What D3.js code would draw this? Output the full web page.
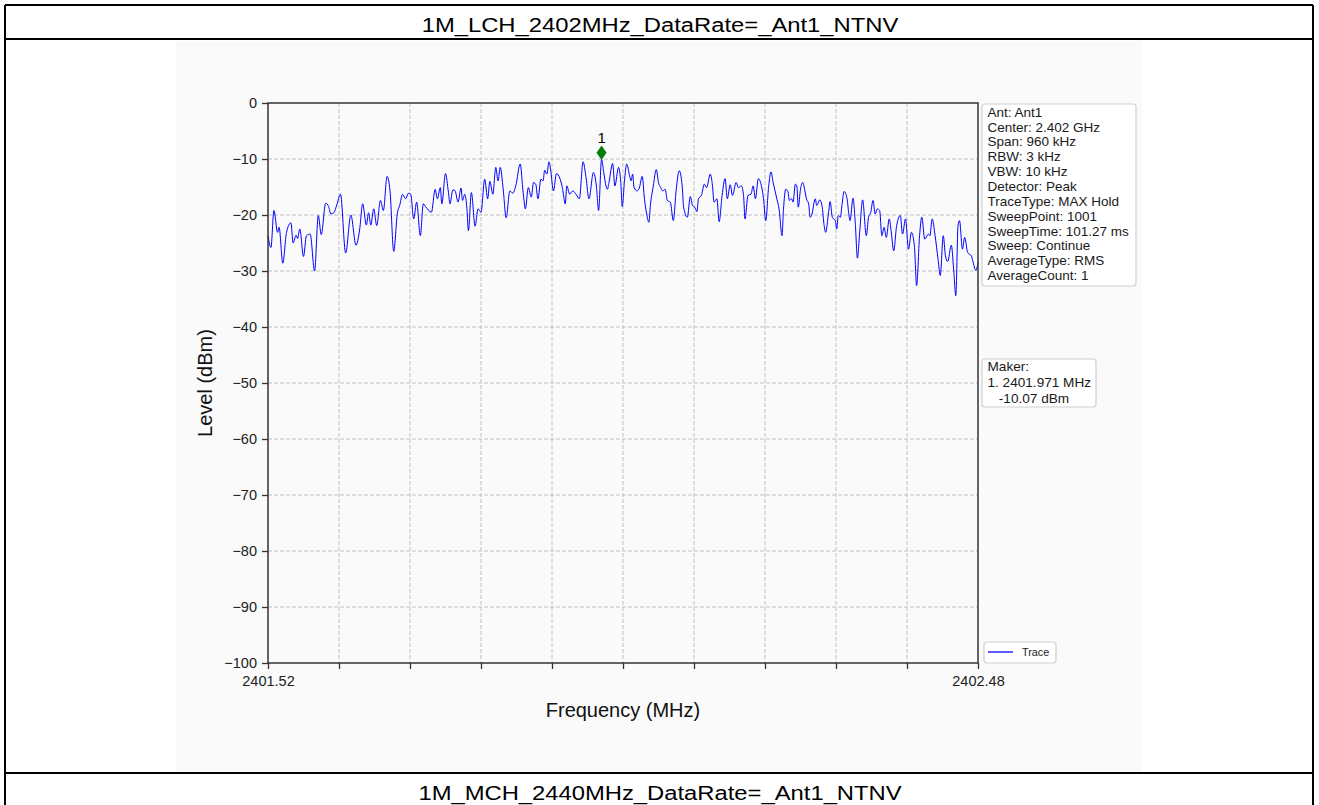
<!DOCTYPE html>
<html>
<head>
<meta charset="utf-8">
<script src="https://cdn.jsdelivr.net/npm/d3@7"></script>
<style>
  body { margin: 0; background: #fff; }
  svg { display: block; }
  text { font-family: "Liberation Sans", Arial, sans-serif; fill: #111; }
</style>
</head>
<body>
<svg id="chart" width="1319" height="805"></svg>
<script>
// ---- data ----
const titleTop = "1M_LCH_2402MHz_DataRate=_Ant1_NTNV";
const titleNext = "1M_MCH_2440MHz_DataRate=_Ant1_NTNV";

const freqMHz = [
  2401.520, 2401.524, 2401.528, 2401.533, 2401.535, 2401.540, 2401.545, 2401.551, 2401.554, 2401.558,
  2401.560, 2401.563, 2401.568, 2401.572, 2401.577, 2401.583, 2401.588, 2401.592, 2401.598, 2401.602,
  2401.605, 2401.609, 2401.613, 2401.618, 2401.625, 2401.632, 2401.639, 2401.644, 2401.648, 2401.653,
  2401.656, 2401.659, 2401.663, 2401.667, 2401.672, 2401.676, 2401.681, 2401.685, 2401.690, 2401.695,
  2401.698, 2401.702, 2401.706, 2401.710, 2401.713, 2401.717, 2401.721, 2401.726, 2401.730, 2401.733,
  2401.741, 2401.746, 2401.749, 2401.753, 2401.755, 2401.760, 2401.764, 2401.766, 2401.770, 2401.773,
  2401.777, 2401.781, 2401.783, 2401.786, 2401.789, 2401.791, 2401.795, 2401.800, 2401.804, 2401.808,
  2401.813, 2401.817, 2401.820, 2401.824, 2401.828, 2401.831, 2401.834, 2401.838, 2401.842, 2401.847,
  2401.851, 2401.855, 2401.861, 2401.865, 2401.868, 2401.872, 2401.876, 2401.879, 2401.882, 2401.885,
  2401.889, 2401.892, 2401.894, 2401.897, 2401.900, 2401.902, 2401.906, 2401.910, 2401.915, 2401.918,
  2401.922, 2401.924, 2401.928, 2401.932, 2401.937, 2401.941, 2401.946, 2401.950, 2401.954, 2401.960,
  2401.964, 2401.967, 2401.971, 2401.974, 2401.977, 2401.979, 2401.981, 2401.986, 2401.989, 2401.994,
  2401.997, 2401.999, 2402.002, 2402.005, 2402.009, 2402.011, 2402.013, 2402.015, 2402.019, 2402.022,
  2402.026, 2402.029, 2402.032, 2402.035, 2402.037, 2402.041, 2402.045, 2402.048, 2402.051, 2402.054,
  2402.057, 2402.060, 2402.064, 2402.068, 2402.072, 2402.076, 2402.080, 2402.082, 2402.087, 2402.091,
  2402.094, 2402.097, 2402.100, 2402.102, 2402.106, 2402.110, 2402.113, 2402.118, 2402.121, 2402.123,
  2402.127, 2402.130, 2402.134, 2402.138, 2402.141, 2402.145, 2402.148, 2402.153, 2402.156, 2402.160,
  2402.163, 2402.165, 2402.169, 2402.173, 2402.176, 2402.179, 2402.183, 2402.186, 2402.190, 2402.193,
  2402.197, 2402.200, 2402.203, 2402.208, 2402.211, 2402.215, 2402.217, 2402.220, 2402.223, 2402.225,
  2402.228, 2402.230, 2402.233, 2402.235, 2402.237, 2402.240, 2402.243, 2402.246, 2402.248, 2402.251,
  2402.253, 2402.255, 2402.260, 2402.262, 2402.266, 2402.269, 2402.272, 2402.274, 2402.278, 2402.280,
  2402.283, 2402.287, 2402.289, 2402.291, 2402.294, 2402.296, 2402.299, 2402.303, 2402.305, 2402.307,
  2402.311, 2402.314, 2402.317, 2402.320, 2402.324, 2402.329, 2402.332, 2402.335, 2402.338, 2402.341,
  2402.344, 2402.347, 2402.350, 2402.353, 2402.356, 2402.360, 2402.363, 2402.366, 2402.370, 2402.375,
  2402.378, 2402.382, 2402.386, 2402.390, 2402.394, 2402.397, 2402.401, 2402.404, 2402.408, 2402.413,
  2402.415, 2402.418, 2402.422, 2402.426, 2402.429, 2402.433, 2402.436, 2402.439, 2402.444, 2402.447,
  2402.450, 2402.453, 2402.455, 2402.459, 2402.462, 2402.466, 2402.471, 2402.473, 2402.477, 2402.480
];

const levelDbm = [
  -23.7, -25.8, -19.2, -23.1, -22.2, -28.6, -23.1, -21.4, -25.0, -23.6,
  -24.2, -22.5, -27.4, -23.7, -23.4, -30.0, -20.1, -23.5, -17.9, -18.5,
  -19.8, -19.6, -18.2, -16.3, -26.8, -20.0, -25.4, -22.5, -18.0, -21.8,
  -19.6, -21.8, -18.9, -21.9, -17.4, -19.2, -13.1, -15.7, -26.5, -19.6,
  -18.3, -16.3, -17.1, -16.1, -16.3, -20.7, -17.7, -23.7, -18.0, -18.5,
  -19.5, -15.4, -17.1, -15.1, -18.0, -12.6, -16.0, -18.0, -15.5, -15.7,
  -17.7, -15.2, -17.4, -16.3, -18.9, -22.8, -16.0, -22.0, -18.9, -19.5,
  -13.6, -17.1, -14.0, -16.3, -11.5, -13.9, -11.5, -15.4, -20.5, -15.7,
  -16.1, -14.8, -10.9, -16.0, -18.9, -15.1, -16.8, -14.2, -14.5, -17.1,
  -13.6, -13.9, -12.0, -12.7, -10.5, -11.8, -15.7, -12.6, -13.6, -15.1,
  -18.0, -14.8, -16.3, -15.7, -16.4, -17.1, -10.5, -13.3, -17.1, -12.4,
  -14.8, -19.2, -10.07, -12.4, -14.8, -15.4, -14.2, -10.8, -14.8, -11.5,
  -14.2, -18.5, -13.9, -10.9, -13.0, -13.9, -12.7, -15.1, -15.7, -15.2,
  -13.1, -17.1, -19.8, -21.3, -18.3, -14.8, -11.9, -14.2, -15.1, -15.7,
  -15.4, -17.4, -17.7, -21.0, -15.4, -12.1, -14.8, -18.6, -20.4, -16.7,
  -18.3, -18.6, -19.4, -17.1, -16.5, -14.5, -15.1, -12.7, -14.8, -17.7,
  -17.1, -21.2, -16.5, -13.5, -17.1, -14.6, -16.5, -14.2, -15.1, -14.8,
  -16.5, -20.7, -16.5, -16.3, -14.8, -17.1, -13.5, -14.2, -17.1, -21.0,
  -14.8, -12.3, -14.2, -17.1, -18.9, -23.7, -19.0, -15.4, -15.8, -17.4,
  -17.1, -17.7, -14.5, -14.8, -18.6, -15.4, -14.2, -15.7, -17.1, -18.0,
  -20.4, -20.1, -17.1, -18.3, -17.3, -18.3, -21.9, -23.1, -19.5, -17.6,
  -20.4, -21.0, -22.5, -20.1, -20.4, -18.3, -15.8, -17.1, -19.5, -21.0,
  -17.0, -21.3, -27.7, -23.1, -17.3, -23.7, -20.4, -19.5, -17.4, -19.8,
  -18.9, -19.2, -23.7, -22.2, -24.0, -20.7, -23.4, -26.4, -21.9, -20.1,
  -23.4, -20.7, -26.1, -23.1, -25.5, -32.6, -23.7, -20.4, -24.3, -23.4,
  -23.7, -20.7, -23.7, -27.9, -30.8, -23.7, -27.3, -28.3, -25.4, -29.6,
  -34.4, -21.9, -21.0, -26.1, -24.0, -26.7, -27.3, -28.2, -29.9, -28.5
];

const xDomain = [2401.52, 2402.48];
const yDomain = [-100, 0];
const xTicks = [2401.52, 2401.616, 2401.712, 2401.808, 2401.904, 2402.0,
                2402.096, 2402.192, 2402.288, 2402.384, 2402.48];
const xTickLabels = ["2401.52", "", "", "", "", "", "", "", "", "", "2402.48"];
const yTicks = [0, -10, -20, -30, -40, -50, -60, -70, -80, -90, -100];

const markerFreq = 2401.971;
const markerLevel = -10.07;
const markerName = "1";

const infoLines = [
  "Ant: Ant1", "Center: 2.402 GHz", "Span: 960 kHz", "RBW: 3 kHz", "VBW: 10 kHz",
  "Detector: Peak", "TraceType: MAX Hold", "SweepPoint: 1001", "SweepTime: 101.27 ms",
  "Sweep: Continue", "AverageType: RMS", "AverageCount: 1"
];
const markerLines = ["Maker:", "1. 2401.971 MHz", "   -10.07 dBm"];
const legendLabel = "Trace";

// ---- drawing ----
const svg = d3.select("#chart");
const W = 1319, H = 805;

// report table frame
svg.append("rect").attr("width", W).attr("height", H).attr("fill", "#fff");
svg.append("rect").attr("x", 176).attr("y", 41).attr("width", 966).attr("height", 731)
  .attr("fill", "#fafafa");

const frame = svg.append("g").attr("stroke", "#000").attr("stroke-width", 2);
[[5, 5, 1313, 5], [5, 39, 1313, 39], [5, 773, 1313, 773],
 [5, 5, 5, 805], [1313, 5, 1313, 805]].forEach(([x1, y1, x2, y2]) =>
  frame.append("line").attr("x1", x1).attr("y1", y1).attr("x2", x2).attr("y2", y2));

function stretchedTitle(txt, cy) {
  svg.append("text")
    .attr("transform", `translate(660,${cy}) scale(1.19,1)`)
    .attr("text-anchor", "middle")
    .style("font-size", "20px")
    .style("fill", "#000")
    .text(txt);
}
stretchedTitle(titleTop, 31.5);
stretchedTitle(titleNext, 800);

// plot area
const plotL = 268, plotR = 978, plotT = 103, plotB = 663;
const x = d3.scaleLinear().domain(xDomain).range([plotL, plotR]);
const y = d3.scaleLinear().domain(yDomain).range([plotB, plotT]);

// grid
const grid = svg.append("g").attr("stroke", "#b3b3b3").attr("stroke-width", 0.8)
  .attr("stroke-dasharray", "4,2");
grid.selectAll("line.v").data(xTicks.slice(1, -1)).join("line").attr("class", "v")
  .attr("x1", d => x(d)).attr("x2", d => x(d)).attr("y1", plotT).attr("y2", plotB);
grid.selectAll("line.h").data(yTicks.slice(1, -1)).join("line").attr("class", "h")
  .attr("y1", d => y(d)).attr("y2", d => y(d)).attr("x1", plotL).attr("x2", plotR);

// trace
const pts = freqMHz.map((f, i) => [f, levelDbm[i]]);
svg.append("path").datum(pts)
  .attr("fill", "none").attr("stroke", "#0000ff").attr("stroke-width", 1)
  .attr("d", d3.line().x(d => x(d[0])).y(d => y(d[1])).curve(d3.curveMonotoneX));

// axes
const yAxis = d3.axisLeft(y).tickValues(yTicks).tickSize(6).tickPadding(5)
  .tickFormat(d3.format("d"));
const gy = svg.append("g").attr("transform", `translate(${plotL},0)`).call(yAxis);
const xAxis = d3.axisBottom(x).tickValues(xTicks).tickSize(6).tickPadding(7)
  .tickFormat((d, i) => xTickLabels[i]);
const gx = svg.append("g").attr("transform", `translate(0,${plotB})`).call(xAxis);
[gx, gy].forEach(g => {
  g.select(".domain").remove();
  g.selectAll(".tick line").attr("stroke", "#333").attr("stroke-width", 1.3);
  g.selectAll(".tick text").style("font-size", "14.5px").style("fill", "#222")
    .style("font-family", "'Liberation Sans', Arial, sans-serif");
});

// spines
svg.append("rect").attr("x", plotL).attr("y", plotT)
  .attr("width", plotR - plotL).attr("height", plotB - plotT)
  .attr("fill", "none").attr("stroke", "#333").attr("stroke-width", 1.5);

// axis titles
svg.append("text").attr("x", (plotL + plotR) / 2).attr("y", 717)
  .attr("text-anchor", "middle").style("font-size", "20px").text("Frequency (MHz)");
svg.append("text").attr("transform", `translate(212,${(plotT + plotB) / 2}) rotate(-90)`)
  .attr("text-anchor", "middle").style("font-size", "20px").text("Level (dBm)");

// peak marker
const mx = x(markerFreq), my = y(markerLevel);
svg.append("path")
  .attr("d", "M0,-6.7L4.7,0L0,6.7L-4.7,0Z")
  .attr("transform", `translate(${mx},${my - 6.7})`)
  .attr("fill", "#008000").attr("stroke", "#006400").attr("stroke-width", 0.6);
svg.append("text").attr("x", mx).attr("y", my - 16).attr("text-anchor", "middle")
  .style("font-size", "15px").style("fill", "#000").text(markerName);

// info boxes
function infoBox(lines, bx, by, bw, bh, fs, lh, firstBase) {
  svg.append("rect").attr("x", bx).attr("y", by).attr("width", bw).attr("height", bh)
    .attr("rx", 3).attr("fill", "#fff").attr("stroke", "#cfcfcf").attr("stroke-width", 1.2);
  svg.append("g").selectAll("text").data(lines).join("text")
    .attr("x", bx + 5.5).attr("y", (d, i) => firstBase + i * lh)
    .style("font-size", fs + "px").style("white-space", "pre").style("fill", "#1a1a1a")
    .text(d => d);
}
infoBox(infoLines, 982, 104, 154, 182, 13.5, 14.85, 116.7);
infoBox(markerLines, 982, 359, 114, 48, 13.6, 16.2, 370.5);

// legend
svg.append("rect").attr("x", 984).attr("y", 642).attr("width", 72).attr("height", 21)
  .attr("rx", 3).attr("fill", "#fff").attr("stroke", "#cfcfcf").attr("stroke-width", 1.2);
svg.append("line").attr("x1", 988).attr("x2", 1013).attr("y1", 652).attr("y2", 652)
  .attr("stroke", "#0000ff").attr("stroke-width", 1.3);
svg.append("text").attr("x", 1022).attr("y", 656).style("font-size", "10.8px")
  .style("fill", "#1a1a1a").text(legendLabel);
</script>
</body>
</html>
